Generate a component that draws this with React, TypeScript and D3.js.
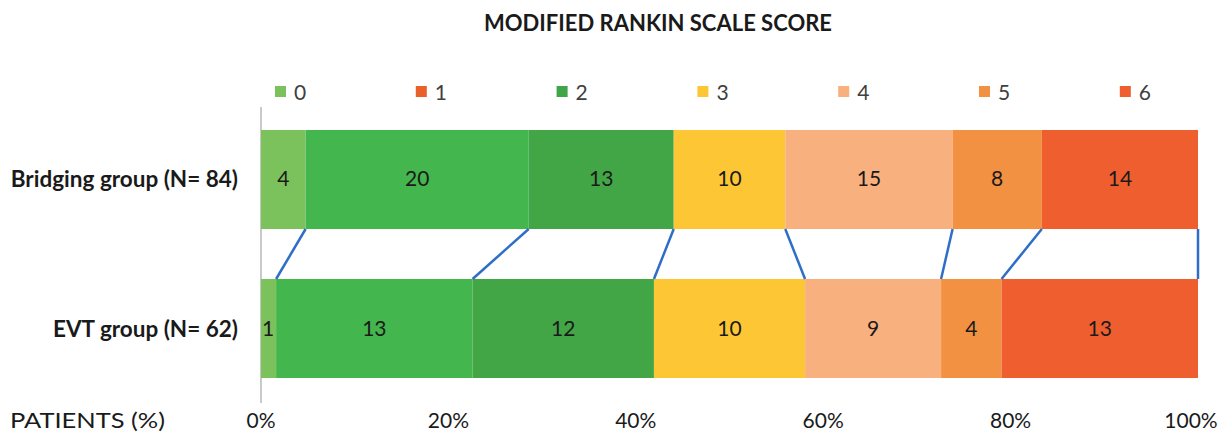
import React, { useRef, useEffect } from "react";
import * as d3 from "d3";

const groups = ["Bridging group (N= 84)", "EVT group (N= 62)"];
const scores = ["0", "1", "2", "3", "4", "5", "6"];
const bridging = [4, 20, 13, 10, 15, 8, 14];
const evt = [1, 13, 12, 10, 9, 4, 13];
const ticks = [0, 20, 40, 60, 80, 100];

const barColors = ["#7cc25c", "#44b64e", "#42a647", "#fdc635", "#f8b07f", "#f29142", "#ee5e2f"];
const legendColors = ["#7cc25c", "#e8602a", "#3ea548", "#fdc635", "#f8b07f", "#f29142", "#ee5e2f"];

const FONT = "Lato, 'Open Sans', sans-serif";

const App = () => {
    const svgRef = useRef<SVGSVGElement>(null);

    useEffect(() => {
        const width = 1218;
        const height = 436;
        const svg = d3.select(svgRef.current).attr("width", width).attr("height", height);
        svg.selectAll("*").remove();

        const x = d3.scaleLinear().domain([0, 100]).range([261, 1198]);
        const y = d3.scaleBand<string>().domain(groups).range([130, 378]).paddingInner(0.3356);

        const rows = [bridging, evt].map((vals, gi) => {
            const total = d3.sum(vals);
            let acc = 0;
            return vals.map((v, i) => {
                const start = (acc / total) * 100;
                acc += v;
                return { group: groups[gi], score: scores[i], value: v, x0: start, x1: (acc / total) * 100, i };
            });
        });

        // title
        svg.append("text")
            .attr("x", 658).attr("y", 31)
            .attr("text-anchor", "middle")
            .style("font-family", FONT).style("font-weight", "700").style("font-size", "22px")
            .attr("fill", "#1a1a1a")
            .text("MODIFIED RANKIN SCALE SCORE");

        // legend
        const legend = svg.append("g");
        scores.forEach((s, i) => {
            const lx = 275 + i * 140.8;
            legend.append("rect").attr("x", lx).attr("y", 86).attr("width", 11).attr("height", 11).attr("fill", legendColors[i]);
            legend.append("text").attr("x", lx + 19).attr("y", 100)
                .style("font-family", FONT).style("font-size", "21px").attr("fill", "#404040").text(s);
        });

        // axis line
        svg.append("line").attr("x1", x(0)).attr("x2", x(0)).attr("y1", 107).attr("y2", 403)
            .attr("stroke", "#a6a6a6").attr("stroke-width", 1.2);

        // bars
        rows.forEach((segs) => {
            const g = svg.append("g");
            g.selectAll("rect").data(segs).enter().append("rect")
                .attr("x", (d) => x(d.x0))
                .attr("y", (d) => y(d.group)!)
                .attr("width", (d) => x(d.x1) - x(d.x0))
                .attr("height", y.bandwidth())
                .attr("fill", (d) => barColors[d.i]);
            g.selectAll("text").data(segs).enter().append("text")
                .attr("x", (d) => (x(d.x1) - x(d.x0) < 20 ? x(d.x0) + 1 : (x(d.x0) + x(d.x1)) / 2))
                .attr("y", (d) => y(d.group)! + y.bandwidth() / 2 + 7)
                .attr("text-anchor", (d) => (x(d.x1) - x(d.x0) < 20 ? "start" : "middle"))
                .style("font-family", FONT).style("font-size", "21px").attr("fill", "#1a1a1a")
                .text((d) => d.value);
        });

        // connectors
        const top = rows[0], bot = rows[1];
        top.forEach((d, i) => {
            svg.append("line")
                .attr("x1", x(d.x1)).attr("y1", y(groups[0])! + y.bandwidth())
                .attr("x2", x(bot[i].x1)).attr("y2", y(groups[1])!)
                .attr("stroke", "#2f6ec6").attr("stroke-width", 2.5);
        });

        // group labels
        groups.forEach((gname) => {
            svg.append("text").attr("x", 238).attr("y", y(gname)! + y.bandwidth() / 2 + 8)
                .attr("text-anchor", "end")
                .style("font-family", FONT).style("font-weight", "700").style("font-size", "22.5px")
                .attr("fill", "#1a1a1a").text(gname);
        });

        // tick labels
        svg.append("g").selectAll("text").data(ticks).enter().append("text")
            .attr("x", (d) => (d === 100 ? x(d) - 7 : x(d)))
            .attr("y", 428)
            .attr("text-anchor", "middle")
            .style("font-family", FONT).style("font-size", "21px").attr("fill", "#1a1a1a")
            .text((d) => d + "%");
        svg.append("text").attr("x", 10).attr("y", 428)
            .attr("textLength", 155).attr("lengthAdjust", "spacingAndGlyphs")
            .style("font-family", FONT).style("font-size", "21px").attr("fill", "#1a1a1a")
            .text("PATIENTS (%)");
    }, []);

    return (
        <div style={{ position: "absolute", top: 0, left: 0 }}>
            <svg ref={svgRef} style={{ display: "block" }}></svg>
        </div>
    );
};

export default App;
